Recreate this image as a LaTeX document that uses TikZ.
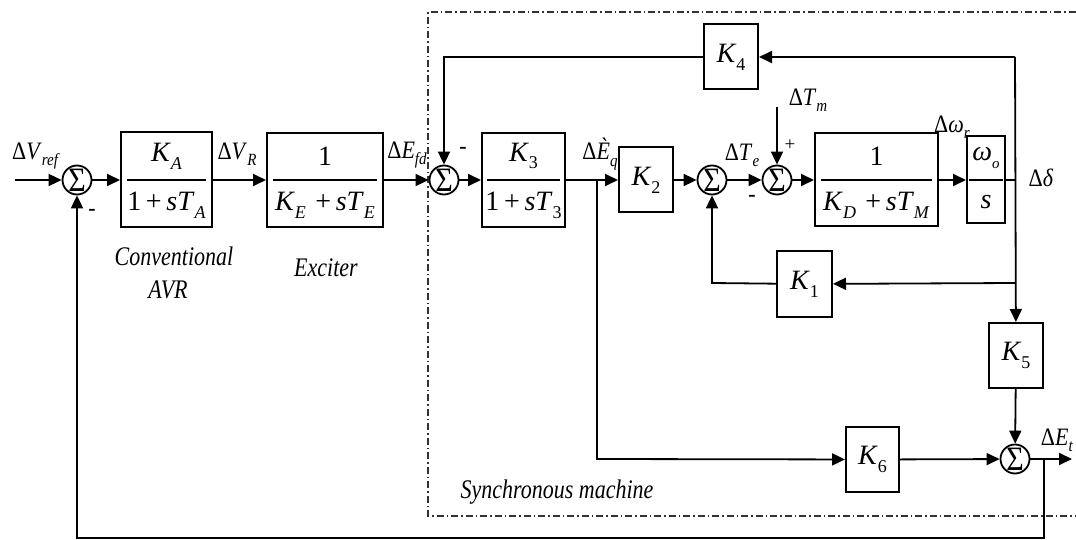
\documentclass[tikz,border=0pt]{standalone}
\usepackage{fontspec}
\setmainfont{Liberation Serif}
\usetikzlibrary{arrows.meta}
\newcommand\mv[1]{\textit{#1}}
\newcommand\sbs[1]{\raisebox{-0.55ex}{\fontsize{15}{15}\selectfont #1}}
\newcommand\bsb[1]{\raisebox{-0.6ex}{\fontsize{18}{18}\selectfont #1}}
\newcommand\tall[1]{\scalebox{1}[1.14]{#1}}
\newcommand\taller[1]{\scalebox{1}[1.22]{#1}}
\begin{document}
\begin{tikzpicture}[x=1pt,y=-1pt,font=\fontsize{22}{24}\selectfont,line width=1.8pt,
  blk/.style={draw,line width=2pt,inner sep=0pt,rectangle,font=\fontsize{28}{28}\selectfont},
  bt/.style={inner sep=0pt,font=\fontsize{28}{28}\selectfont},
  sumn/.style={draw,circle,line width=1.8pt,minimum size=29pt,inner sep=0pt,font=\fontsize{30}{30}\selectfont},
  arr/.style={-{Triangle[length=13pt,width=12pt]}},
  lbl/.style={inner sep=0pt},
  caption/.style={inner sep=0pt,font=\fontsize{22}{24}\selectfont\itshape},
  frac/.style={line width=1.6pt},
  sync/.style={line width=1.3pt,dash pattern=on 7pt off 3pt on 1.5pt off 3pt,black!80}]
\useasboundingbox (0,0) rectangle (1076,540);

% synchronous machine frame
\draw[sync] (1090,12) -- (428,12) -- (428,516) -- (1090,516);
\node[caption] (synlab) at (557,492) {\taller{Synchronous machine}};

% blocks
\node[blk,minimum width=91pt,minimum height=95pt] (KA) at (166.5,180) {};
\draw[frac] ([xshift=7pt]KA.west) -- ([xshift=-7pt]KA.east);
\node[bt] (KAn) at (166.5,156) {\mv{K}\bsb{\mv{A}}};
\node[bt] (KAd) at (166.5,205) {1\,+\,\mv{sT}\bsb{\mv{A}}};

\node[blk,minimum width=116pt,minimum height=94pt] (EX) at (325,180) {};
\draw[frac] ([xshift=7pt]EX.west) -- ([xshift=-7pt]EX.east);
\node[bt] (EXn) at (325,156) {1};
\node[bt] (EXd) at (325,205) {\mv{K}\bsb{\mv{E}}\,\,+\,\mv{sT}\bsb{\mv{E}}};

\node[blk,minimum width=83pt,minimum height=94pt] (K3) at (523.5,180) {};
\draw[frac] ([xshift=6pt]K3.west) -- ([xshift=-6pt]K3.east);
\node[bt] (K3n) at (523.5,156) {\mv{K}\bsb{3}};
\node[bt] (K3d) at (523.5,205) {1\,+\,\mv{sT}\bsb{3}};

\node[blk,minimum width=54pt,minimum height=65pt] (K2) at (646,180) {\mv{K}\bsb{2}};

\node[blk,minimum width=123pt,minimum height=93pt] (KD) at (876.5,180) {};
\draw[frac] ([xshift=7pt]KD.west) -- ([xshift=-7pt]KD.east);
\node[bt] (KDn) at (876.5,156) {1};
\node[bt] (KDd) at (876.5,205) {\mv{K}\bsb{\mv{D}}\,\,+\,\mv{sT}\bsb{\mv{M}}};

\node[blk,minimum width=38pt,minimum height=87pt] (WS) at (986,180) {};
\draw[frac] ([xshift=3pt]WS.west) -- ([xshift=-3pt]WS.east);
\node[bt] (WSn) at (986,158) {\mv{ω}\raisebox{-0.55ex}{\fontsize{15}{15}\selectfont\mv{o}}};
\node[bt] (WSd) at (986,202) {\mv{s}};

\node[blk,minimum width=54pt,minimum height=65pt] (K4) at (731,57) {\mv{K}\bsb{4}};
\node[blk,minimum width=55pt,minimum height=66pt] (K1) at (804.5,284) {\mv{K}\bsb{1}};
\node[blk,minimum width=54pt,minimum height=65pt] (K5) at (1016,355.5) {\mv{K}\bsb{5}};
\node[blk,minimum width=53pt,minimum height=65pt] (K6) at (872.5,459.5) {\mv{K}\bsb{6}};

% summing junctions
\node[sumn] (S1) at (77,180) {\tall{Σ}};
\node[sumn] (S2) at (444,180) {\tall{Σ}};
\node[sumn] (S3) at (712,180) {\tall{Σ}};
\node[sumn] (S4) at (777,180) {\tall{Σ}};
\node[sumn] (S5) at (1015,459) {\tall{Σ}};

% coordinates
\coordinate (in) at (15,180);
\coordinate (bE) at (597,180);
\coordinate (bEd) at (597,459);
\coordinate (wr) at (1015,180);
\coordinate (top) at (1015,57);
\coordinate (k1r) at (1015,283);
\coordinate (k4l) at (444,57);
\coordinate (k1l) at (712,283);
\coordinate (tm) at (777,107);
\coordinate (out) at (1072,459);
\coordinate (fb1) at (1044,459);
\coordinate (fb2) at (1044,538);
\coordinate (fb3) at (77,538);

% connectors
\draw[arr] (in) -- (S1);
\draw[arr] (S1) -- (KA);
\draw[arr] (KA) -- (EX);
\draw[arr] (EX) -- (S2);
\draw[arr] (S2) -- (K3);
\draw[arr] (K3) -- (K2);
\draw[arr] (bE) -- (bEd) -- (K6);
\draw[arr] (K2) -- (S3);
\draw[arr] (S3) -- (S4);
\draw[arr] (S4) -- (KD);
\draw[arr] (KD) -- (WS);
\draw (WS) -- (wr);
\draw[arr] (top) -- (K5);
\draw[arr] (top) -- (K4);
\draw[arr] (K4) -- (k4l) -- (S2);
\draw[arr] (k1r) -- (K1);
\draw[arr] (K1) -- (k1l) -- (S3);
\draw[arr] (tm) -- (S4);
\draw[arr] (K5) -- (S5);
\draw[arr] (K6) -- (S5);
\draw[arr] (S5) -- (out);
\draw[arr] (fb1) -- (fb2) -- (fb3) -- (S1);

% signal labels
\node[lbl] (lVref) at (36,156) {\tall{Δ\mv{V}\sbs{\mv{ref}}}};
\node[lbl] (lVR) at (237,154) {\tall{Δ\mv{V}\sbs{\mv{R}}}};
\node[lbl] (lEfd) at (407,155) {\tall{Δ\mv{E}\sbs{\mv{fd}}}};
\node[lbl] (lEq) at (600,154) {\tall{Δ\mv{È}\sbs{\mv{q}}}};
\node[lbl] (lTe) at (742,155) {\tall{Δ\mv{T}\sbs{\mv{e}}}};
\node[lbl] (lTm) at (808,100) {\tall{Δ\mv{T}\sbs{\mv{m}}}};
\node[lbl] (lwr) at (952,127) {\tall{Δ\mv{ω}\sbs{\mv{r}}}};
\node[lbl] (ldd) at (1041,178) {\tall{Δ\mv{δ}}};
\node[lbl] (lEt) at (1057,440) {\tall{Δ\mv{E}\sbs{\mv{t}}}};

% signs
\node[lbl,font=\fontsize{22}{22}\selectfont\bfseries] (m1) at (92,212) {-};
\node[lbl,font=\fontsize{22}{22}\selectfont\bfseries] (m2) at (463,150) {-};
\node[lbl,font=\fontsize{22}{22}\selectfont\bfseries] (m3) at (752,198) {-};
\node[lbl,font=\fontsize{19}{19}\selectfont] (p1) at (790,145) {+};

% block captions
\node[caption] (cav1) at (174,256) {\taller{Conventional}};
\node[caption] (cav2) at (168,290) {\taller{AVR}};
\node[caption] (cex) at (326,268) {\taller{Exciter}};
\end{tikzpicture}
\end{document}
